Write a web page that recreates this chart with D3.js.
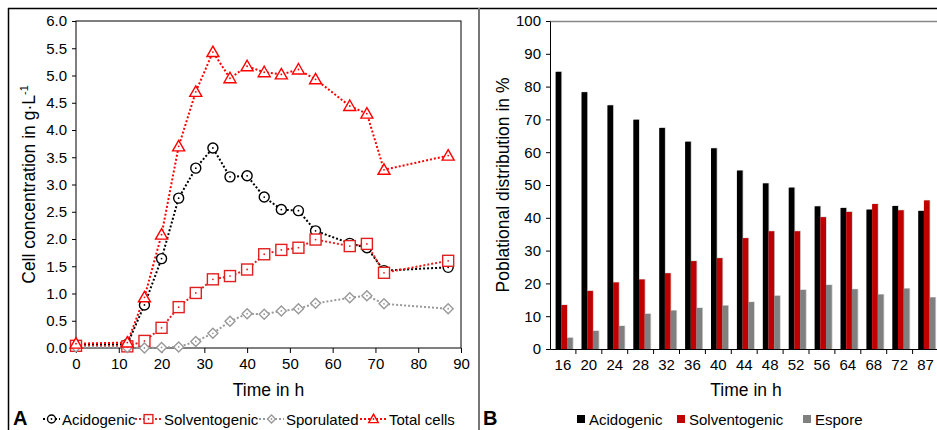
<!DOCTYPE html>
<html>
<head>
<meta charset="utf-8">
<script src="https://cdn.jsdelivr.net/npm/d3@7"></script>
<style>
  body { margin: 0; background: #fff; }
  svg { display: block; }
  svg text { font-family: "Liberation Sans", Arial, sans-serif; }
</style>
</head>
<body>
<svg id="chart"></svg>
<script>
var width = 937;
var height = 430;

// panel A data (g/L)
var times = [0, 12, 16, 20, 24, 28, 32, 36, 40, 44, 48, 52, 56, 64, 68, 72, 87];
var acidogenic = [0.05, 0.07, 0.79, 1.64, 2.75, 3.30, 3.67, 3.14, 3.16, 2.77, 2.54, 2.52, 2.15, 1.92, 1.84, 1.42, 1.48];
var solventogenic = [0.04, 0.03, 0.13, 0.37, 0.75, 1.01, 1.26, 1.32, 1.44, 1.72, 1.80, 1.84, 1.99, 1.87, 1.91, 1.38, 1.60];
var sporulated = [0.02, 0.01, 0.00, 0.01, 0.02, 0.12, 0.27, 0.49, 0.63, 0.62, 0.68, 0.72, 0.82, 0.92, 0.96, 0.81, 0.72];
var totalCells = [0.08, 0.10, 0.93, 2.08, 3.70, 4.70, 5.43, 4.95, 5.17, 5.06, 5.02, 5.11, 4.93, 4.44, 4.30, 3.27, 3.53];

// panel B data (%)
var hours = ["16", "20", "24", "28", "32", "36", "40", "44", "48", "52", "56", "64", "68", "72", "87"];
var pctAcid = [84.5, 78.3, 74.3, 69.9, 67.4, 63.2, 61.2, 54.4, 50.5, 49.2, 43.5, 43.0, 42.5, 43.6, 42.1];
var pctSolv = [13.4, 17.7, 20.3, 21.2, 23.1, 26.8, 27.7, 33.8, 35.9, 35.9, 40.2, 41.8, 44.2, 42.3, 45.3];
var pctSpore = [3.4, 5.5, 7.0, 10.7, 11.7, 12.5, 13.2, 14.3, 16.2, 18.0, 19.5, 18.2, 16.6, 18.4, 15.7];

var tickFont = 15;

var svg = d3.select('#chart')
  .attr('width', width)
  .attr('height', height);

// frame
svg.append('line').attr('x1', 8).attr('x2', width).attr('y1', 8.5).attr('y2', 8.5)
  .attr('stroke', '#000').attr('stroke-width', 1.5);
svg.append('line').attr('x1', 8.5).attr('x2', 8.5).attr('y1', 8).attr('y2', height)
  .attr('stroke', '#000').attr('stroke-width', 1.5);
svg.append('line').attr('x1', 479).attr('x2', 479).attr('y1', 8).attr('y2', height)
  .attr('stroke', '#777').attr('stroke-width', 2);

// ---------- panel A ----------
var ax = {left: 76, right: 461, top: 21, bottom: 348};
var x = d3.scaleLinear().domain([0, 90]).range([ax.left, ax.right]);
var y = d3.scaleLinear().domain([0, 6]).range([ax.bottom, ax.top]);

var gA = svg.append('g');

gA.append('g')
  .attr('transform', 'translate(0,' + ax.bottom + ')')
  .call(d3.axisBottom(x).tickValues(d3.range(0, 91, 10)).tickSize(5).tickSizeOuter(0).tickPadding(5))
  .call(function(g){ g.select('.domain').remove(); })
  .selectAll('text').attr('font-size', tickFont).attr('fill', '#000');

gA.append('g')
  .attr('transform', 'translate(' + ax.left + ',0)')
  .call(d3.axisLeft(y).tickValues(d3.range(0, 6.01, 0.5)).tickFormat(d3.format('.1f')).tickSize(4).tickSizeOuter(0).tickPadding(5))
  .call(function(g){ g.select('.domain').remove(); })
  .selectAll('text').attr('font-size', tickFont).attr('fill', '#000');

gA.append('rect')
  .attr('x', ax.left).attr('y', ax.top)
  .attr('width', ax.right - ax.left).attr('height', ax.bottom - ax.top)
  .attr('fill', 'none').attr('stroke', '#000').attr('stroke-width', 1);

gA.append('text')
  .attr('x', (ax.left + ax.right) / 2).attr('y', 396)
  .attr('text-anchor', 'middle').attr('font-size', 17.5).text('Time in h');

var yt = gA.append('text')
  .attr('transform', 'translate(35,' + (ax.top + ax.bottom) / 2 + ') rotate(-90)')
  .attr('text-anchor', 'middle').attr('font-size', 17.5);
yt.append('tspan').text('Cell concentration in g·L');
yt.append('tspan').attr('dy', -7).attr('font-size', 11).text('-1');

var seriesA = [
  {name: 'Acidogenic', values: acidogenic, color: '#000', mark: 'circle'},
  {name: 'Solventogenic', values: solventogenic, color: '#e02020', mark: 'square'},
  {name: 'Sporulated', values: sporulated, color: '#999', mark: 'diamond'},
  {name: 'Total cells', values: totalCells, color: '#ff0000', mark: 'triangle'}
];

var line = d3.line()
  .x(function(d){ return x(d[0]); })
  .y(function(d){ return y(d[1]); });

function drawMarker(g, type, cx, cy, color, s) {
  var m;
  if (type === 'circle') {
    m = g.append('circle').attr('cx', cx).attr('cy', cy).attr('r', 5 * s);
  } else if (type === 'square') {
    m = g.append('rect').attr('x', cx - 5.5 * s).attr('y', cy - 5.5 * s)
      .attr('width', 11 * s).attr('height', 11 * s);
  } else if (type === 'diamond') {
    var r = 5 * s;
    m = g.append('path').attr('d', 'M' + cx + ',' + (cy - r) + 'L' + (cx + r) + ',' + cy +
      'L' + cx + ',' + (cy + r) + 'L' + (cx - r) + ',' + cy + 'Z');
  } else {
    var h = 6 * s;
    m = g.append('path').attr('d', 'M' + cx + ',' + (cy - h) + 'L' + (cx + 6 * s) + ',' + (cy + 4.5 * s) +
      'L' + (cx - 6 * s) + ',' + (cy + 4.5 * s) + 'Z');
  }
  m.attr('fill', '#fff').attr('stroke', color).attr('stroke-width', 1.4);
  g.append('circle').attr('cx', cx).attr('cy', cy).attr('r', 0.9).attr('fill', color);
}

seriesA.forEach(function(s){
  var pts = times.map(function(t, i){ return [t, s.values[i]]; });
  gA.append('path').datum(pts)
    .attr('d', line)
    .attr('fill', 'none').attr('stroke', s.color)
    .attr('stroke-width', 2).attr('stroke-dasharray', '2,2');
});
seriesA.forEach(function(s){
  var mg = gA.append('g');
  times.forEach(function(t, i){
    drawMarker(mg, s.mark, x(t), y(s.values[i]), s.color, 1);
  });
});

// legend A
svg.append('text').attr('x', 13).attr('y', 425).attr('font-size', 20).attr('font-weight', 'bold').text('A');
var legA = [
  {x0: 43, x1: 60, tx: 62},
  {x0: 135, x1: 162, tx: 164},
  {x0: 259, x1: 284, tx: 286},
  {x0: 360, x1: 387, tx: 389}
];
seriesA.forEach(function(s, i){
  var L = legA[i];
  var ly = 419;
  svg.append('line').attr('x1', L.x0).attr('x2', L.x1).attr('y1', ly).attr('y2', ly)
    .attr('stroke', s.color).attr('stroke-width', 2).attr('stroke-dasharray', '2,2');
  drawMarker(svg, s.mark, (L.x0 + L.x1) / 2, ly, s.color, 0.8);
  svg.append('text').attr('x', L.tx).attr('y', ly + 5.5).attr('font-size', 15).text(s.name);
});

// ---------- panel B ----------
var bx = {left: 550, right: 938.5, top: 21, bottom: 349};
var xb = d3.scaleBand().domain(hours).range([bx.left, bx.right]);
var yb = d3.scaleLinear().domain([0, 100]).range([bx.bottom, bx.top]);
var gB = svg.append('g');

gB.append('line').attr('x1', bx.left).attr('x2', width).attr('y1', bx.top + 0.5).attr('y2', bx.top + 0.5)
  .attr('stroke', '#888').attr('stroke-width', 1.5);

var barW = 5.7;
var barSeries = [
  {values: pctAcid, color: '#000'},
  {values: pctSolv, color: '#c00000'},
  {values: pctSpore, color: '#808080'}
];
barSeries.forEach(function(s, k){
  gB.selectAll(null).data(hours).enter().append('rect')
    .attr('x', function(d){ return xb(d) + 5.6 + k * barW + 0.8; })
    .attr('y', function(d, i){ return yb(s.values[i]) - 0.5; })
    .attr('width', barW)
    .attr('height', function(d, i){ return bx.bottom - yb(s.values[i]) + 0.5; })
    .attr('fill', '#ccc');
  gB.selectAll(null).data(hours).enter().append('rect')
    .attr('x', function(d){ return xb(d) + 5.6 + k * barW; })
    .attr('y', function(d, i){ return yb(s.values[i]); })
    .attr('width', barW)
    .attr('height', function(d, i){ return bx.bottom - yb(s.values[i]); })
    .attr('fill', s.color);
});

gB.append('g')
  .attr('transform', 'translate(' + bx.left + ',0)')
  .call(d3.axisLeft(yb).tickValues(d3.range(0, 101, 10)).tickSize(4).tickSizeOuter(0).tickPadding(5))
  .selectAll('text').attr('font-size', tickFont).attr('fill', '#000');

var xAxisB = gB.append('g')
  .attr('transform', 'translate(0,' + bx.bottom + ')')
  .call(d3.axisBottom(xb).tickSize(0).tickSizeOuter(0).tickPadding(10));
xAxisB.selectAll('text').attr('font-size', tickFont).attr('fill', '#000');
xAxisB.selectAll(null).data(hours).enter().append('line')
  .attr('x1', function(d){ return xb(d) + xb.bandwidth(); })
  .attr('x2', function(d){ return xb(d) + xb.bandwidth(); })
  .attr('y1', 0).attr('y2', 5).attr('stroke', '#000');

gB.append('text')
  .attr('x', 746).attr('y', 396)
  .attr('text-anchor', 'middle').attr('font-size', 17.5).text('Time in h');
gB.append('text')
  .attr('transform', 'translate(509,' + (bx.top + bx.bottom) / 2 + ') rotate(-90)')
  .attr('text-anchor', 'middle').attr('font-size', 17.5).text('Poblational distribution in %');

svg.append('text').attr('x', 483).attr('y', 425).attr('font-size', 20).attr('font-weight', 'bold').text('B');
var legB = [
  {name: 'Acidogenic', color: '#000', x: 577},
  {name: 'Solventogenic', color: '#c00000', x: 677},
  {name: 'Espore', color: '#808080', x: 803}
];
legB.forEach(function(l){
  svg.append('rect').attr('x', l.x).attr('y', 415).attr('width', 8).attr('height', 8).attr('fill', l.color);
  svg.append('text').attr('x', l.x + 12).attr('y', 424.5).attr('font-size', 15).text(l.name);
});
</script>
</body>
</html>
